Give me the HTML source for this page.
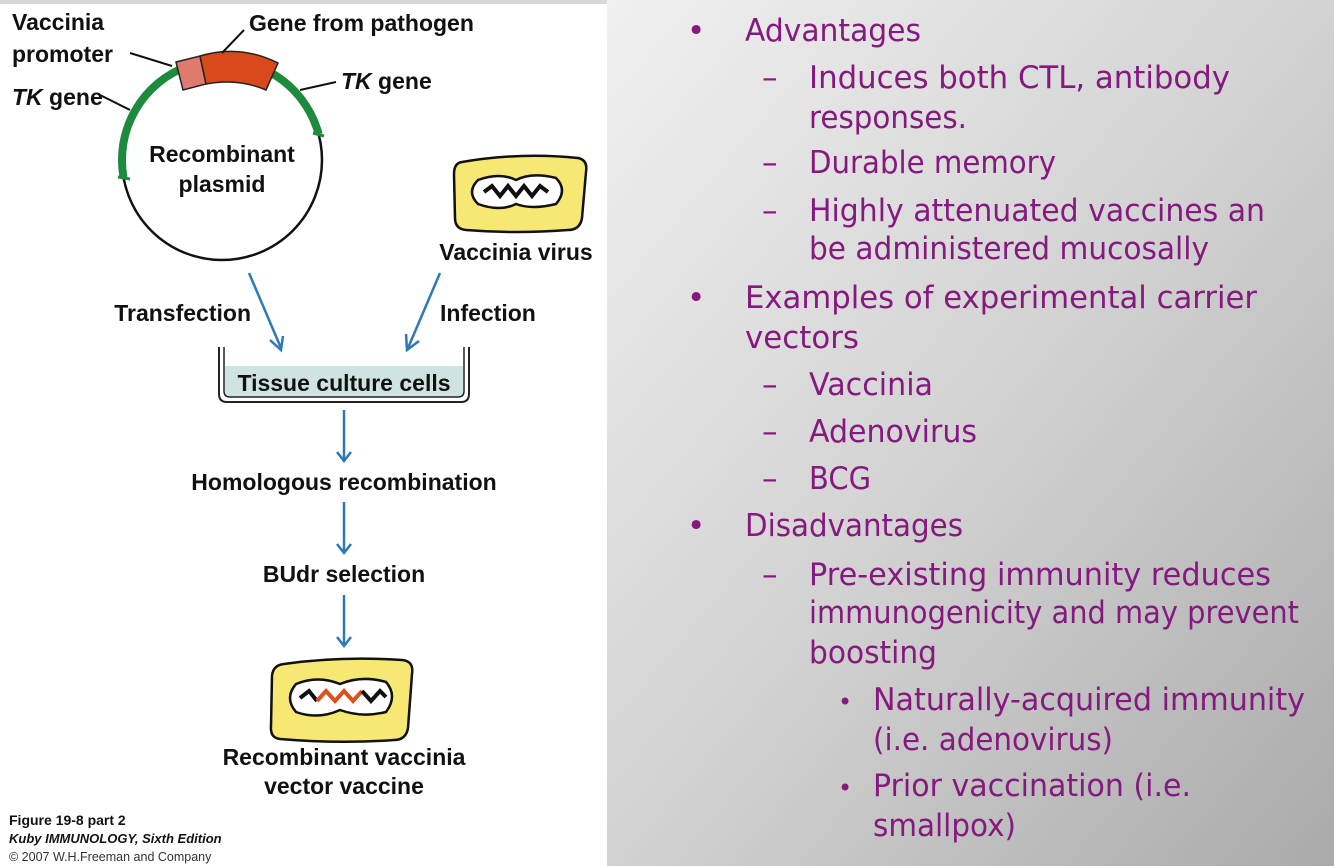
<!DOCTYPE html>
<html><head><meta charset="utf-8"><style>
html,body{margin:0;padding:0;background:#fff}
svg{display:block}
.b{font-family:"Liberation Sans",sans-serif;font-weight:bold;fill:#111}
.p{font-family:"DejaVu Sans",sans-serif;fill:#86197f;font-size:31px}
</style></head><body>
<svg width="1334" height="866" viewBox="0 0 1334 866" xmlns="http://www.w3.org/2000/svg">
<defs>
<linearGradient id="g" x1="0" y1="0" x2="1" y2="1">
<stop offset="0" stop-color="#f0f0f0"/><stop offset="0.5" stop-color="#d2d2d2"/><stop offset="1" stop-color="#aaaaaa"/>
</linearGradient>
</defs>
<rect x="0" y="0" width="1334" height="866" fill="#fff"/>
<rect x="607" y="0" width="727" height="866" fill="url(#g)"/>
<rect x="0" y="0" width="607" height="4" fill="#d8d8d8"/>

<!-- plasmid -->
<circle cx="222" cy="160" r="100" fill="none" stroke="#111" stroke-width="2.5"/>
<path d="M123.5,177.4 A100,100 0 0 1 188,66" fill="none" stroke="#1e8a3e" stroke-width="8"/>
<path d="M272,73.4 A100,100 0 0 1 318.6,134" fill="none" stroke="#1e8a3e" stroke-width="8"/>
<line x1="118" y1="177" x2="130" y2="179" stroke="#1e8a3e" stroke-width="3"/>
<line x1="313" y1="133" x2="324" y2="136" stroke="#1e8a3e" stroke-width="3"/>
<path d="M176,62 L200,56 L206,84 L183,90 Z" fill="#e07a6e" stroke="#222" stroke-width="1.5"/>
<path d="M200,56 Q240,44 278,63 L266,90 Q238,78 206,84 Z" fill="#d84a1c" stroke="#222" stroke-width="1.5"/>
<line x1="130" y1="53" x2="172" y2="66" stroke="#111" stroke-width="2"/>
<line x1="98" y1="94" x2="130" y2="110" stroke="#111" stroke-width="2"/>
<line x1="222" y1="53" x2="244" y2="30" stroke="#111" stroke-width="2"/>
<line x1="300" y1="90" x2="336" y2="82" stroke="#111" stroke-width="2"/>
<text class="b" x="12" y="30" font-size="23">Vaccinia</text>
<text class="b" x="12" y="62" font-size="23">promoter</text>
<text class="b" x="12" y="105" font-size="23"><tspan font-style="italic">TK</tspan> gene</text>
<text class="b" x="249" y="31" font-size="23">Gene from pathogen</text>
<text class="b" x="341" y="89" font-size="23"><tspan font-style="italic">TK</tspan> gene</text>
<text class="b" x="222" y="162" font-size="23" text-anchor="middle">Recombinant</text>
<text class="b" x="222" y="192" font-size="23" text-anchor="middle">plasmid</text>

<!-- vaccinia virus -->
<path d="M462,162 Q520,152 578,158 Q588,160 586,172 L582,218 Q580,230 568,230 Q515,234 466,230 Q455,229 455,218 L454,174 Q454,163 462,162 Z" fill="#f7e874" stroke="#111" stroke-width="2.5"/>
<path d="M478,180 Q500,172 516,180 Q532,172 556,178 Q568,190 556,204 Q532,210 516,204 Q500,212 478,204 Q466,192 478,180 Z" fill="#fff" stroke="#111" stroke-width="2.5"/>
<path d="M484,192 l8,-6 l8,10 l8,-10 l8,10 l8,-10 l8,10 l8,-10 l8,6" fill="none" stroke="#111" stroke-width="4"/>
<text class="b" x="516" y="260" font-size="23" text-anchor="middle">Vaccinia virus</text>

<!-- arrows -->
<g stroke="#2e78b8" stroke-width="2.5" fill="none">
<line x1="249" y1="273" x2="281" y2="348"/><polyline points="270,340 281,350 283,336"/>
<line x1="440" y1="273" x2="408" y2="348"/><polyline points="406,334 407,350 419,341"/>
<line x1="344" y1="410" x2="344" y2="460"/><polyline points="337,452 344,461 351,452"/>
<line x1="344" y1="502" x2="344" y2="552"/><polyline points="337,544 344,553 351,544"/>
<line x1="344" y1="595" x2="344" y2="645"/><polyline points="337,637 344,646 351,637"/>
</g>
<text class="b" x="251" y="321" font-size="23" text-anchor="end">Transfection</text>
<text class="b" x="440" y="321" font-size="23">Infection</text>

<!-- dish -->
<rect x="225" y="366" width="238" height="31" fill="#cfe3e2"/>
<path d="M219,347 L219,394 Q219,402 227,402 L461,402 Q469,402 469,394 L469,347" fill="none" stroke="#222" stroke-width="2"/>
<path d="M224,347 L224,391 Q224,397 230,397 L458,397 Q464,397 464,391 L464,347" fill="none" stroke="#222" stroke-width="1.5"/>
<text class="b" x="344" y="391" font-size="23" text-anchor="middle">Tissue culture cells</text>

<text class="b" x="344" y="490" font-size="23" text-anchor="middle">Homologous recombination</text>
<text class="b" x="344" y="582" font-size="23" text-anchor="middle">BUdr selection</text>

<!-- recombinant virus -->
<path d="M284,664 Q340,656 402,660 Q414,661 412,674 L408,728 Q406,740 394,740 Q340,744 280,739 Q270,738 271,726 L272,676 Q273,665 284,664 Z" fill="#f7e874" stroke="#111" stroke-width="2.5"/>
<path d="M296,684 Q318,675 340,684 Q362,675 386,682 Q398,696 386,712 Q362,718 340,710 Q318,720 296,712 Q284,698 296,684 Z" fill="#fff" stroke="#111" stroke-width="2.5"/>
<path d="M300,698 l9,-7 l8,10" fill="none" stroke="#111" stroke-width="4"/>
<path d="M317,701 l9,-10 l9,10 l9,-10 l9,10 l9,-10" fill="none" stroke="#e0501c" stroke-width="4"/>
<path d="M362,691 l9,10 l9,-10 l6,6" fill="none" stroke="#111" stroke-width="4"/>
<text class="b" x="344" y="765" font-size="23" text-anchor="middle">Recombinant vaccinia</text>
<text class="b" x="344" y="794" font-size="23" text-anchor="middle">vector vaccine</text>

<text class="b" x="9" y="825" font-size="14">Figure 19-8 part 2</text>
<text class="b" x="9" y="843" font-size="13" font-style="italic">Kuby IMMUNOLOGY, Sixth Edition</text>
<text x="9" y="861" font-size="12.5" font-family="Liberation Sans,sans-serif" fill="#333">© 2007 W.H.Freeman and Company</text>

<!-- right text -->
<g class="p">
<text x="687" y="41">•</text><text x="745" y="41" textLength="176" lengthAdjust="spacingAndGlyphs">Advantages</text>
<text x="762" y="88">–</text><text x="809" y="88" textLength="421" lengthAdjust="spacingAndGlyphs">Induces both CTL, antibody</text>
<text x="809" y="128" textLength="158" lengthAdjust="spacingAndGlyphs">responses.</text>
<text x="762" y="173">–</text><text x="809" y="173" textLength="247" lengthAdjust="spacingAndGlyphs">Durable memory</text>
<text x="762" y="221">–</text><text x="809" y="221" textLength="456" lengthAdjust="spacingAndGlyphs">Highly attenuated vaccines an</text>
<text x="809" y="259" textLength="400" lengthAdjust="spacingAndGlyphs">be administered mucosally</text>
<text x="687" y="308">•</text><text x="745" y="308" textLength="512" lengthAdjust="spacingAndGlyphs">Examples of experimental carrier</text>
<text x="745" y="348" textLength="114" lengthAdjust="spacingAndGlyphs">vectors</text>
<text x="762" y="395">–</text><text x="809" y="395" textLength="124" lengthAdjust="spacingAndGlyphs">Vaccinia</text>
<text x="762" y="442">–</text><text x="809" y="442" textLength="168" lengthAdjust="spacingAndGlyphs">Adenovirus</text>
<text x="762" y="489">–</text><text x="809" y="489" textLength="62" lengthAdjust="spacingAndGlyphs">BCG</text>
<text x="687" y="536">•</text><text x="745" y="536" textLength="218" lengthAdjust="spacingAndGlyphs">Disadvantages</text>
<text x="762" y="585">–</text><text x="809" y="585" textLength="462" lengthAdjust="spacingAndGlyphs">Pre-existing immunity reduces</text>
<text x="809" y="623" textLength="490" lengthAdjust="spacingAndGlyphs">immunogenicity and may prevent</text>
<text x="809" y="663" textLength="128" lengthAdjust="spacingAndGlyphs">boosting</text>
<text x="838" y="710" font-size="24">•</text><text x="873" y="710" textLength="432" lengthAdjust="spacingAndGlyphs">Naturally-acquired immunity</text>
<text x="873" y="750" textLength="240" lengthAdjust="spacingAndGlyphs">(i.e. adenovirus)</text>
<text x="838" y="796" font-size="24">•</text><text x="873" y="796" textLength="318" lengthAdjust="spacingAndGlyphs">Prior vaccination (i.e.</text>
<text x="873" y="836" textLength="143" lengthAdjust="spacingAndGlyphs">smallpox)</text>
</g>
</svg>
</body></html>
